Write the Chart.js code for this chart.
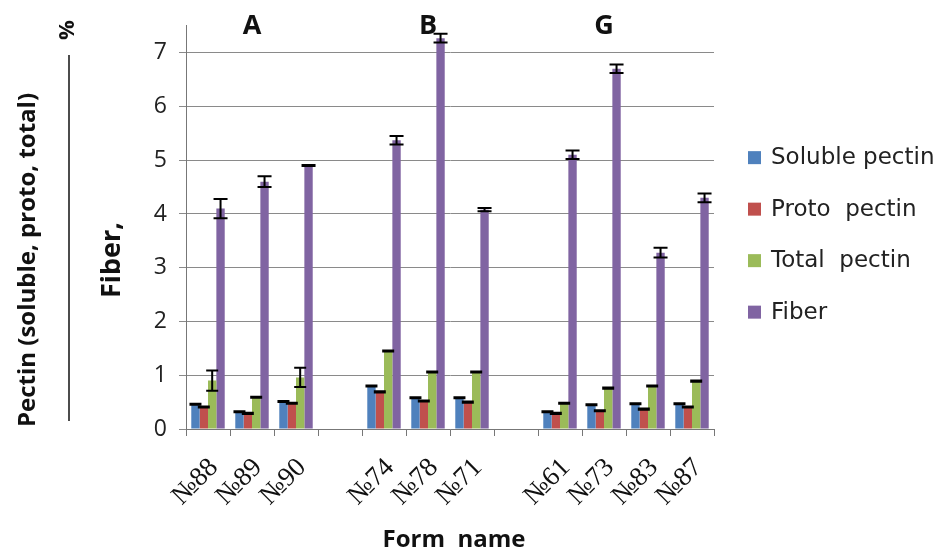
<!DOCTYPE html>
<html>
<head>
<meta charset="utf-8">
<script src="https://cdn.jsdelivr.net/npm/chart.js@4.4.1/dist/chart.umd.min.js"></script>
<style>
  html, body { margin: 0; padding: 0; background: #ffffff; }
  #wrap { width: 945px; height: 555px; position: relative; }
</style>
</head>
<body>
<div id="wrap"><canvas id="chart" width="945" height="555"></canvas></div>
<script>
// Form names; empty slots separate the three groups
const categories = ['№88', '№89', '№90', '', '№74', '№78', '№71', '', '№61', '№73', '№83', '№87'];

// Group headings and the form each one sits over
const groupNames = ['A', 'B', 'G'];
const groupAnchors = ['№89', '№78', '№73'];

const seriesNames = ['Soluble pectin', 'Proto  pectin', 'Total  pectin', 'Fiber'];

const solublePectin = [0.46, 0.32, 0.51, null, 0.80, 0.58, 0.58, null, 0.32, 0.45, 0.47, 0.47];
const protoPectin   = [0.41, 0.29, 0.48, null, 0.69, 0.52, 0.50, null, 0.29, 0.34, 0.37, 0.41];
const totalPectin   = [0.90, 0.59, 0.96, null, 1.45, 1.06, 1.06, null, 0.48, 0.76, 0.80, 0.89];
const fiber         = [4.10, 4.60, 4.90, null, 5.37, 7.27, 4.08, null, 5.10, 6.70, 3.28, 4.30];

// Standard errors (± around each value)
const solubleErr = [0.01, 0.01, 0.01, null, 0.01, 0.01, 0.01, null, 0.01, 0.01, 0.01, 0.01];
const protoErr   = [0.01, 0.01, 0.01, null, 0.01, 0.01, 0.01, null, 0.01, 0.01, 0.01, 0.01];
const totalErr   = [0.19, 0.01, 0.18, null, 0.01, 0.01, 0.01, null, 0.01, 0.01, 0.01, 0.01];
const fiberErr   = [0.18, 0.10, 0.01, null, 0.08, 0.08, 0.03, null, 0.08, 0.08, 0.09, 0.08];

const yTicks = [0, 1, 2, 3, 4, 5, 6, 7];

const colors = ['#4F81BD', '#C0504D', '#9BBB59', '#8064A2'];
const seriesValues = [solublePectin, protoPectin, totalPectin, fiber];
const seriesErrors = [solubleErr, protoErr, totalErr, fiberErr];

const datasets = seriesNames.map((name, i) => ({
  label: name,
  data: seriesValues[i],
  errors: seriesErrors[i],
  backgroundColor: colors[i],
  borderWidth: 0,
  categoryPercentage: 0.76,
  barPercentage: 1.0
}));

// Error bars with caps
const errorBars = {
  id: 'errorBars',
  afterDatasetsDraw(chart) {
    const ctx = chart.ctx;
    const y = chart.scales.y;
    ctx.save();
    ctx.strokeStyle = '#000';
    ctx.lineWidth = 2;
    chart.data.datasets.forEach((ds, i) => {
      const meta = chart.getDatasetMeta(i);
      const cap = i === 3 ? 7 : 6;
      meta.data.forEach((bar, j) => {
        const v = ds.data[j], e = ds.errors[j];
        if (v == null || e == null) return;
        const x = bar.x;
        const top = y.getPixelForValue(v + e);
        const bot = y.getPixelForValue(v - e);
        ctx.beginPath();
        ctx.moveTo(x, top); ctx.lineTo(x, bot);
        ctx.moveTo(x - cap, top); ctx.lineTo(x + cap, top);
        ctx.moveTo(x - cap, bot); ctx.lineTo(x + cap, bot);
        ctx.stroke();
      });
    });
    ctx.restore();
  }
};

// Titles, group headings and legend
const annotations = {
  id: 'annotations',
  afterDraw(chart) {
    const ctx = chart.ctx;
    const area = chart.chartArea;
    const xs = chart.scales.x;
    ctx.save();

    // group headings
    ctx.fillStyle = '#111';
    ctx.font = 'bold 27px "Open Sans"';
    ctx.textAlign = 'center';
    ctx.textBaseline = 'middle';
    groupNames.forEach((g, k) => {
      const idx = categories.indexOf(groupAnchors[k]);
      ctx.fillText(g, xs.getPixelForValue(idx), area.top + 1);
    });

    // x axis title
    ctx.font = 'bold 24px "Open Sans"';
    ctx.fillText('Form  name', 454, 540);

    // y axis title as a fraction: Fiber, % over Pectin (...)
    ctx.save();
    ctx.translate(28, 260);
    ctx.rotate(-Math.PI / 2);
    ctx.font = 'bold 24px "Open Sans"';
    ctx.fillText('Pectin (soluble, proto, total)', 0, 0);
    ctx.restore();

    ctx.save();
    ctx.translate(112, 260);
    ctx.rotate(-Math.PI / 2);
    ctx.font = 'bold 27px "Open Sans"';
    ctx.fillText('Fiber,', 0, 0);
    ctx.restore();

    ctx.save();
    ctx.translate(68, 30);
    ctx.rotate(-Math.PI / 2);
    ctx.font = 'bold 22px "Open Sans"';
    ctx.fillText('%', 0, 0);
    ctx.restore();

    ctx.strokeStyle = '#111';
    ctx.lineWidth = 1.5;
    ctx.beginPath();
    ctx.moveTo(69, 55);
    ctx.lineTo(69, 421);
    ctx.stroke();

    // legend
    const rowGap = 51.5;
    const n = chart.data.datasets.length;
    const cy = (area.top + area.bottom) / 2 + 7;
    const y0 = cy - rowGap * (n - 1) / 2;
    const bx = area.right + 34;
    ctx.font = '23px "DejaVu Sans"';
    ctx.textAlign = 'left';
    ctx.textBaseline = 'middle';
    chart.data.datasets.forEach((ds, i) => {
      const yy = y0 + i * rowGap;
      ctx.fillStyle = ds.backgroundColor;
      ctx.fillRect(bx, yy - 6, 13, 13);
      ctx.fillStyle = '#222';
      ctx.fillText(ds.label, bx + 23, yy + 1);
    });

    ctx.restore();
  }
};

new Chart(document.getElementById('chart'), {
  type: 'bar',
  data: { labels: categories, datasets },
  options: {
    responsive: false,
    animation: false,
    layout: { padding: { top: 25, right: 231, left: 0, bottom: 0 } },
    plugins: {
      legend: { display: false },
      tooltip: { enabled: false }
    },
    scales: {
      x: {
        offset: true,
        grid: {
          display: true,
          offset: true,
          drawOnChartArea: false,
          drawTicks: true,
          tickLength: 7,
          color: '#777'
        },
        border: { display: true, color: '#777', width: 1 },
        ticks: {
          autoSkip: false,
          minRotation: 45,
          maxRotation: 45,
          padding: 16,
          labelOffset: 6,
          color: '#111',
          font: { family: '"Liberation Serif"', size: 27 }
        },
        afterFit(scale) { scale.height = 126; }
      },
      y: {
        min: 0,
        max: 7.5,
        afterBuildTicks(scale) {
          scale.ticks = yTicks.map(v => ({ value: v }));
        },
        grid: {
          color: '#8a8a8a',
          lineWidth: 1,
          drawTicks: true,
          tickLength: 7
        },
        border: { display: true, color: '#777', width: 1 },
        ticks: {
          padding: 12,
          color: '#222',
          font: { family: '"Open Sans"', size: 23 }
        },
        afterFit(scale) { scale.width = 186; }
      }
    }
  },
  plugins: [errorBars, annotations]
});
</script>
</body>
</html>
